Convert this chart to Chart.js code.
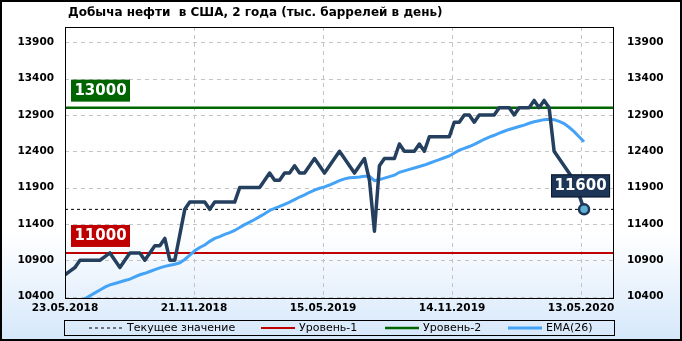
<!DOCTYPE html>
<html>
<head>
<meta charset="utf-8">
<script src="https://cdn.jsdelivr.net/npm/chart.js@4.4.1/dist/chart.umd.min.js"></script>
<style>
html, body { margin: 0; padding: 0; background: #fff; }
canvas { display: block; }
</style>
</head>
<body>
<canvas id="myChart" width="682" height="341"></canvas>
<script>
// chart text
var chartTitle = "Добыча нефти  в США, 2 года (тыс. баррелей в день)";
var xLabels = ["23.05.2018", "21.11.2018", "15.05.2019", "14.11.2019", "13.05.2020"];
var xLabelWeeks = [0, 25.85, 51.7, 77.55, 103.4];
var yTicks = [10400, 10900, 11400, 11900, 12400, 12900, 13400, 13900];

// weekly production, thousand barrels per day (from 23.05.2018)
var production = [
    10700, 10750, 10800, 10900, 10900, 10900, 10900, 10900, 10950, 11000,
    10900, 10800, 10900, 11000, 11000, 11000, 10900, 11000, 11100, 11100,
    11200, 10900, 10900, 11250, 11600, 11700, 11700, 11700, 11700, 11600,
    11700, 11700, 11700, 11700, 11700, 11900, 11900, 11900, 11900, 11900,
    12000, 12100, 12000, 12000, 12100, 12100, 12200, 12100, 12100, 12200,
    12300, 12200, 12100, 12200, 12300, 12400, 12300, 12200, 12100, 12200,
    12300, 12000, 11300, 12200, 12300, 12300, 12300, 12500, 12400, 12400,
    12400, 12500, 12400, 12600, 12600, 12600, 12600, 12600, 12800, 12800,
    12900, 12900, 12800, 12900, 12900, 12900, 12900, 13000, 13000, 13000,
    12900, 13000, 13000, 13000, 13100, 13000, 13100, 13000, 12400, 12300,
    12200, 12100, 12000, 11800, 11600
];

// EMA(26) of production
var ema26 = [
    10230, 10270, 10310, 10340, 10370, 10410, 10450, 10490, 10530, 10560,
    10580, 10600, 10620, 10640, 10670, 10700, 10720, 10745, 10770, 10795,
    10815, 10830, 10845, 10865, 10910, 10970, 11030, 11075, 11110, 11160,
    11200, 11225, 11255, 11280, 11310, 11350, 11390, 11425, 11460, 11500,
    11540, 11585, 11615, 11640, 11670, 11700, 11735, 11770, 11800, 11835,
    11865, 11890, 11910, 11935, 11965, 11995, 12020, 12035, 12040, 12045,
    12055, 12055, 11995, 12010, 12030, 12050, 12070, 12110, 12130, 12150,
    12170, 12190, 12210, 12235, 12260, 12285, 12310, 12335, 12375, 12415,
    12440, 12465, 12495, 12530, 12565, 12595, 12620, 12650, 12675, 12700,
    12720, 12740, 12760, 12785, 12805, 12820, 12835, 12840, 12835, 12810,
    12780, 12730, 12670, 12600, 12530
];

var level1 = 11000;
var level2 = 13000;
var currentValue = 11600;
var weeksShown = 110;

function toPoints(arr) {
    return arr.map(function (v, i) { return { x: i, y: v }; });
}
function flat(v) {
    return [{ x: 0, y: v }, { x: weeksShown, y: v }];
}

var legendNames = ["Текущее значение", "Уровень-1", "Уровень-2", "EMA(26)"];
var legendX = [89, 261, 385, 508];

var fontMain = "'DejaVu Sans', 'Liberation Sans', sans-serif";

var decor = {
    id: 'decor',
    beforeDraw: function (chart) {
        var c = chart.ctx;
        var g = c.createLinearGradient(0, 0, 0, 341);
        g.addColorStop(0, '#ffffff');
        g.addColorStop(0.68, '#ffffff');
        g.addColorStop(1, '#d5e7fa');
        c.save();
        c.fillStyle = g;
        c.fillRect(0, 0, 682, 341);
        c.restore();
    },
    beforeDatasetsDraw: function (chart) {
        // dashed grid
        var c = chart.ctx;
        var a = chart.chartArea;
        c.save();
        c.strokeStyle = '#c4c4c4';
        c.lineWidth = 1;
        c.setLineDash([4, 4]);
        chart.scales.y.ticks.forEach(function (t) {
            var py = Math.round(chart.scales.y.getPixelForValue(t.value)) + 0.5;
            c.beginPath();
            c.moveTo(a.left, py);
            c.lineTo(a.right, py);
            c.stroke();
        });
        chart.scales.x.ticks.forEach(function (t) {
            var px = Math.round(chart.scales.x.getPixelForValue(t.value)) + 0.5;
            c.beginPath();
            c.moveTo(px, a.top);
            c.lineTo(px, a.bottom);
            c.stroke();
        });
        c.restore();
    },
    afterDatasetsDraw: function (chart) {
        var c = chart.ctx;
        var a = chart.chartArea;
        var ys = chart.scales.y;
        var xs = chart.scales.x;
        c.save();
        // level boxes
        [[level2, '#006400'], [level1, '#c00000']].forEach(function (lv) {
            var py = ys.getPixelForValue(lv[0]);
            c.fillStyle = lv[1];
            c.fillRect(a.left + 6, py - 28, 59, 22);
            c.fillStyle = '#ffffff';
            c.font = "bold 15px " + fontMain;
            c.textAlign = 'center';
            c.textBaseline = 'middle';
            c.fillText(String(lv[0]), a.left + 35.5, py - 16.5);
        });
        // current value box
        var last = production.length - 1;
        var lx = xs.getPixelForValue(last);
        var ly = ys.getPixelForValue(production[last]);
        c.fillStyle = '#1d3658';
        c.fillRect(lx - 33, ly - 35, 59, 23);
        c.strokeStyle = '#0b1a2c';
        c.lineWidth = 1;
        c.strokeRect(lx - 32.5, ly - 34.5, 58, 22);
        c.fillStyle = '#ffffff';
        c.font = "bold 15px " + fontMain;
        c.textAlign = 'center';
        c.textBaseline = 'middle';
        c.fillText(String(production[last]), lx - 3.5, ly - 23);
        c.restore();
    },
    afterDraw: function (chart) {
        var c = chart.ctx;
        var a = chart.chartArea;
        c.save();
        // plot frame
        c.strokeStyle = '#000';
        c.lineWidth = 1;
        c.strokeRect(a.left + 0.5, a.top + 0.5, a.right - a.left - 1, a.bottom - a.top);
        // outer frame
        c.lineWidth = 2;
        c.strokeRect(1, 1, 680, 339);
        // title
        c.fillStyle = '#000';
        c.font = "bold 12px " + fontMain;
        c.textAlign = 'left';
        c.textBaseline = 'middle';
        c.fillText(chartTitle, 68, 13);
        // legend
        c.lineWidth = 1;
        c.strokeRect(64.5, 320.5, 550, 15);
        c.font = "11px " + fontMain;
        legendNames.forEach(function (name, i) {
            var ds = chart.data.datasets.find(function (d) { return d.label === name; });
            var x0 = legendX[i];
            c.beginPath();
            c.strokeStyle = ds.borderColor;
            c.lineWidth = ds.borderWidth;
            c.setLineDash(ds.borderDash || []);
            c.moveTo(x0, 328);
            c.lineTo(x0 + 34, 328);
            c.stroke();
            c.setLineDash([]);
            c.fillStyle = '#000';
            c.fillText(name, x0 + 38, 328);
        });
        c.restore();
    }
};

var ctx = document.getElementById("myChart");
var myChart = new Chart(ctx, {
    type: 'line',
    data: {
        datasets: [
            {
                label: "Добыча",
                data: toPoints(production),
                borderColor: "#253f5f",
                borderWidth: 3.5,
                pointRadius: function (c) { return c.dataIndex === production.length - 1 ? 5 : 0; },
                pointBackgroundColor: "#5fb0d2",
                pointBorderColor: "#1d3658",
                pointBorderWidth: 2.5,
                borderJoinStyle: 'round',
                order: 1
            },
            {
                label: "EMA(26)",
                data: toPoints(ema26),
                borderColor: "#44a3f7",
                borderWidth: 3,
                pointRadius: 0,
                order: 2
            },
            {
                label: "Уровень-2",
                data: flat(level2),
                borderColor: "#006400",
                borderWidth: 2.5,
                pointRadius: 0,
                order: 3
            },
            {
                label: "Уровень-1",
                data: flat(level1),
                borderColor: "#c00000",
                borderWidth: 2,
                pointRadius: 0,
                order: 3
            },
            {
                label: "Текущее значение",
                data: flat(currentValue),
                borderColor: "#000000",
                borderWidth: 1,
                borderDash: [3, 3],
                pointRadius: 0,
                order: 4
            }
        ]
    },
    options: {
        responsive: false,
        animation: false,
        devicePixelRatio: 1,
        layout: { padding: { top: 27, left: 0, right: 0, bottom: 0 } },
        plugins: {
            legend: { display: false },
            tooltip: { enabled: false }
        },
        scales: {
            x: {
                type: 'linear',
                min: 0,
                max: weeksShown,
                afterBuildTicks: function (s) {
                    s.ticks = xLabelWeeks.map(function (v) { return { value: v }; });
                },
                afterFit: function (s) { s.height = 43; },
                ticks: {
                    autoSkip: false,
                    maxRotation: 0,
                    padding: 4,
                    color: '#000',
                    font: { family: fontMain, size: 10.5, weight: 'bold' },
                    callback: function (v, i) { return xLabels[i]; }
                },
                grid: { display: false, drawTicks: false },
                border: { display: false }
            },
            y: {
                position: 'left',
                min: 10380,
                max: 14110,
                afterBuildTicks: function (s) {
                    s.ticks = yTicks.map(function (v) { return { value: v }; });
                },
                afterFit: function (s) { s.width = 65; },
                ticks: {
                    padding: 11,
                    color: '#000',
                    font: { family: fontMain, size: 10.5, weight: 'bold' },
                    callback: function (v) { return String(v); }
                },
                grid: { display: false, drawTicks: false },
                border: { display: false }
            },
            y2: {
                position: 'right',
                min: 10380,
                max: 14110,
                afterBuildTicks: function (s) {
                    s.ticks = yTicks.map(function (v) { return { value: v }; });
                },
                afterFit: function (s) { s.width = 68; },
                ticks: {
                    padding: 13,
                    color: '#000',
                    font: { family: fontMain, size: 10.5, weight: 'bold' },
                    callback: function (v) { return String(v); }
                },
                grid: { display: false, drawTicks: false },
                border: { display: false }
            }
        }
    },
    plugins: [decor]
});
</script>
</body>
</html>
